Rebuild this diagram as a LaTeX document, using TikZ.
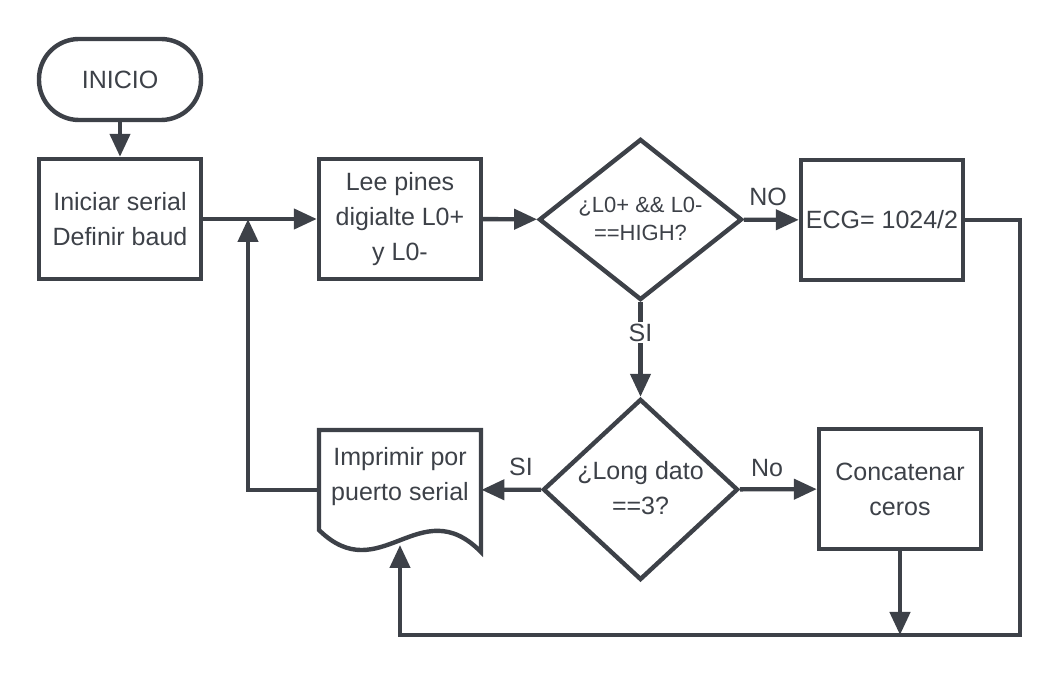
\documentclass[tikz,border=0pt]{standalone}
\usepackage{fontspec}
\setmainfont{Liberation Sans}
\usetikzlibrary{shapes.geometric,arrows.meta}
\definecolor{ink}{HTML}{3D4148}
\begin{document}
\begin{tikzpicture}[x=0.5pt,y=-0.5pt,
  every node/.style={text=ink},
  txt/.style={align=center,inner sep=0pt,font=\fontsize{12.5}{17.5}\selectfont},
  box/.style={txt,draw=ink,line width=2.2pt,fill=white,minimum width=81pt,minimum height=60pt},
  decision/.style={diamond,draw=ink,line width=2.2pt,fill=white,inner sep=0pt},
  lbl/.style={font=\fontsize{12.5}{15}\selectfont,inner sep=1pt},
  line/.style={draw=ink,line width=2.2pt},
  arrow/.style={line,-{Triangle[length=11.5pt,width=10pt]}}]
  \useasboundingbox (0,0) rectangle (1062,678);
  \node[box,rounded corners=20pt,minimum height=40.5pt] (inicio) at (120,79.5) {INICIO};
  \node[box] (ini) at (120,219) {Iniciar serial\\Definir baud};
  \node[box] (lee) at (400,219) {Lee pines\\digialte L0+\\y L0-};
  \node[decision,minimum width=101.5pt,minimum height=80.5pt] (d1) at (640.5,219.5) {};
  \node[txt,font=\fontsize{11}{14}\selectfont] (d1t) at (640.5,219) {¿L0+ \&\& L0-\\==HIGH?};
  \node[box] (ecg) at (882,220) {ECG= 1024/2};
  \node[decision,minimum width=97.5pt,minimum height=90.5pt] (d2) at (640.5,489.5) {};
  \node[txt] (d2t) at (640.5,488) {¿Long dato\\==3?};
  \node[box] (conc) at (900,489) {Concatenar\\ceros};
  \node[minimum width=81pt,minimum height=60pt,inner sep=0pt] (impr) at (400,490) {};
  \draw[line,fill=white] (319,430) -- (481,430) -- (481,552)
    .. controls (420,490) and (380,590) .. (319,530) -- cycle;
  \node[txt] (imprt) at (400,477) {Imprimir por\\puerto serial};
  \coordinate (imprwave) at (400,545);
  \coordinate (jn) at (248,219);
  \coordinate (rr) at (1020,635);
  \coordinate (cj) at (900,635);
  \draw[arrow] (inicio) -- (ini);
  \draw[arrow] (ini) -- (lee);
  \draw[arrow] (lee) -- (d1);
  \draw[arrow] (d1) -- (ecg);
  \draw[arrow] (d1) -- node[lbl,pos=0.32,fill=white] {SI} (d2);
  \draw[arrow] (d2) -- (impr);
  \draw[arrow] (d2) -- (conc);
  \draw[arrow] (conc) -- (cj);
  \draw[arrow] (ecg) -| (rr) -| (imprwave);
  \draw[arrow] (impr) -| (jn);
  \node[lbl] (no1) at (768,197) {NO};
  \node[lbl] (si2) at (521,467) {SI};
  \node[lbl] (no2) at (767,468) {No};
\end{tikzpicture}
\end{document}
